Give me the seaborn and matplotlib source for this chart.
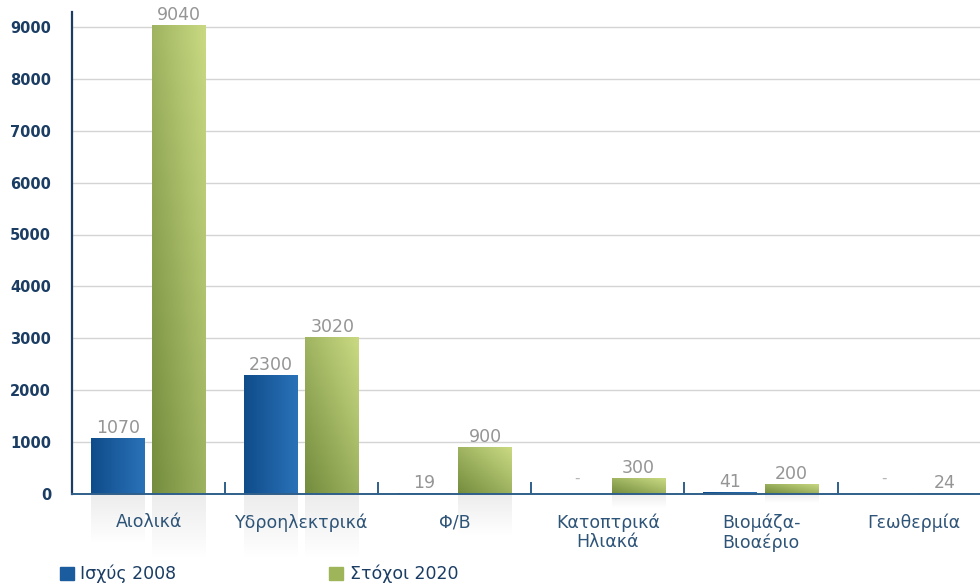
import numpy as np
import pandas as pd
import matplotlib
matplotlib.use("Agg")
import matplotlib.pyplot as plt
import seaborn as sns
from matplotlib.colors import LinearSegmentedColormap, to_rgba
from matplotlib.patches import Patch

categories = ["Αιολικά", "Υδροηλεκτρικά", "Φ/Β", "Κατοπτρικά\nΗλιακά", "Βιομάζα-\nΒιοαέριο", "Γεωθερμία"]
capacity_2008 = [1070, 2300, 19, np.nan, 41, np.nan]
target_2020 = [9040, 3020, 900, 300, 200, 24]
series_names = ["Ισχύς 2008", "Στόχοι 2020"]
yticks = [0, 1000, 2000, 3000, 4000, 5000, 6000, 7000, 8000, 9000]

df = pd.DataFrame({
    "cat": categories * 2,
    "series": [series_names[0]] * len(categories) + [series_names[1]] * len(categories),
    "value": capacity_2008 + target_2020,
})

sns.set_theme(style="white")
plt.rcParams["font.family"] = ["DejaVu Sans"]

navy = "#1b3d63"
blue = "#1a5c9e"
green = "#9fb55a"

fig = plt.figure(figsize=(9.8, 5.86), dpi=100)
ax = fig.add_axes([72 / 980, 92 / 586, (980 - 72) / 980, (494 - 12) / 586])

sns.barplot(data=df, x="cat", y="value", hue="series", order=categories,
            hue_order=series_names, palette=[blue, green], width=0.8, gap=0.12,
            ax=ax, legend=False, saturation=1, edgecolor="none")

ytop = (494 - 12) / 51.9 * 1000
ax.set_yticks(yticks)
ax.set_yticklabels([str(t) for t in yticks], color=navy, fontsize=10.5, fontweight="bold")
ax.yaxis.grid(True, color="#d4d4d4", linewidth=1)
ax.set_axisbelow(True)
ax.set_xlabel("")
ax.set_ylabel("")
for s in ["top", "right"]:
    ax.spines[s].set_visible(False)
ax.spines["left"].set_color(navy)
ax.spines["left"].set_linewidth(1.6)
ax.spines["bottom"].set_color("#2f5f8a")
ax.spines["bottom"].set_linewidth(1.4)
ax.tick_params(axis="y", length=0, pad=15)
ax.tick_params(axis="x", which="major", length=0, pad=14)
ax.set_xticks(range(len(categories)))
ax.set_xticklabels(categories, color="#2e5478", fontsize=12.5, linespacing=1.1)
ax.set_xticks(np.arange(0.5, len(categories) - 0.5, 1.0), minor=True)
ax.tick_params(axis="x", which="minor", direction="in", length=9, width=1.4, color="#2f5f8a", bottom=True)

# gradients on bars
cm_blue = LinearSegmentedColormap.from_list("b", ["#0f4c8a", "#2a72b8"])
cm_green = LinearSegmentedColormap.from_list("g", ["#748d3e", "#c9d982"])
grad = np.linspace(0, 1, 64).reshape(1, -1)
blue_rgba = to_rgba(blue)
for p in list(ax.patches):
    h = p.get_height()
    if not np.isfinite(h) or h <= 0:
        continue
    x0, w = p.get_x(), p.get_width()
    is_blue = np.allclose(p.get_facecolor(), blue_rgba, atol=0.02)
    cmap = cm_blue if is_blue else cm_green
    g = grad if is_blue else (grad + np.linspace(1, 0, 16).reshape(-1, 1)) / 2
    im = ax.imshow(g, cmap=cmap, aspect="auto", extent=[x0, x0 + w, 0, h],
                   origin="upper", zorder=p.get_zorder() + 0.1, vmin=0, vmax=1)
    im.set_clip_path(p)
    # faint reflection below axis
    refl = np.linspace(0.35, 0.0, 32).reshape(-1, 1) * np.ones((1, 8))
    rh = min(h, 1400) * 0.9
    r = ax.imshow(np.dstack([np.full_like(refl, 0.62)] * 3 + [refl * 0.55]), aspect="auto",
                  extent=[x0, x0 + w, -rh, 0], origin="upper", zorder=0.5)
    r.set_clip_on(False)
ax.set_xlim(-0.5, 5.43)
ax.set_ylim(0, ytop)

# value labels
for i, cat in enumerate(categories):
    for j, vals in enumerate([capacity_2008, target_2020]):
        v = vals[i]
        xpos = i + (-0.2 if j == 0 else 0.2)
        if np.isnan(v):
            ax.text(xpos, 150, "-", ha="center", va="bottom", color="#b5b5b5", fontsize=11)
        else:
            ax.text(xpos, v + 20, f"{v:g}", ha="center", va="bottom", color="#959595", fontsize=12.5)

handles = [Patch(color=blue), Patch(color=green)]
fig.legend(handles, series_names, loc="lower left", bbox_to_anchor=(44 / 980, -0.022), ncol=2,
           frameon=False, fontsize=12.5, columnspacing=8.8, handlelength=0.8, handleheight=0.8,
           handletextpad=0.4, labelcolor=navy)

fig.savefig("out.png", dpi=100)
